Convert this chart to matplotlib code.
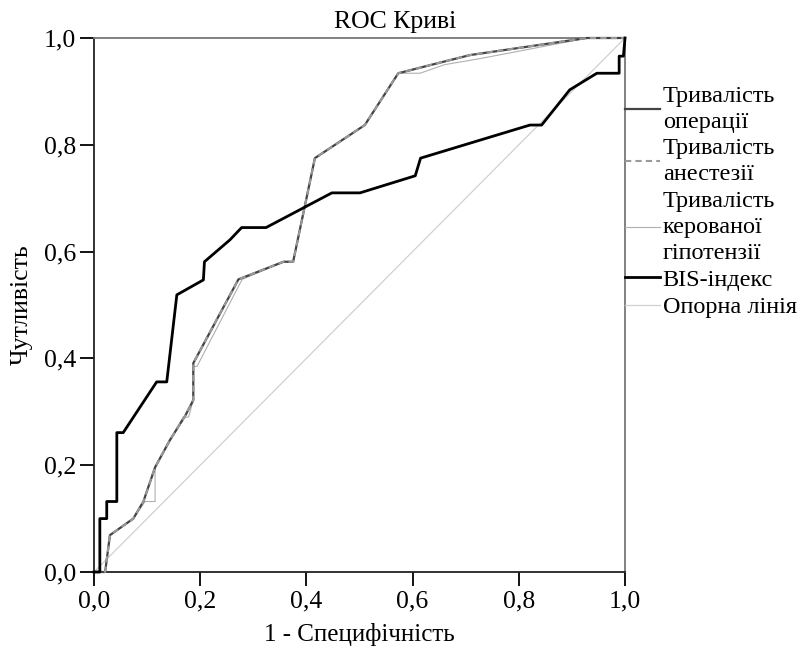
import numpy as np
import matplotlib
matplotlib.use("Agg")
import matplotlib.pyplot as plt

plt.rcParams['font.family'] = ['Liberation Serif', 'DejaVu Serif']

# дані кривих
op_x = [0.0, 0.021, 0.030, 0.074, 0.093, 0.115, 0.143, 0.172, 0.187, 0.187, 0.272, 0.357, 0.375, 0.416, 0.510, 0.573, 0.652, 0.708, 0.928, 1.0]
op_y = [0.0, 0.0, 0.069, 0.10, 0.132, 0.196, 0.247, 0.293, 0.322, 0.391, 0.548, 0.581, 0.581, 0.775, 0.837, 0.934, 0.954, 0.968, 1.0, 1.0]

an_x = [0.0, 0.021, 0.030, 0.074, 0.093, 0.115, 0.143, 0.172, 0.187, 0.187, 0.272, 0.357, 0.375, 0.416, 0.510, 0.573, 0.652, 0.708, 0.928, 1.0]
an_y = [0.0, 0.0, 0.069, 0.10, 0.132, 0.196, 0.247, 0.293, 0.322, 0.391, 0.548, 0.581, 0.581, 0.775, 0.837, 0.934, 0.954, 0.968, 1.0, 1.0]

hyp_x = [0.0, 0.021, 0.030, 0.074, 0.096, 0.115, 0.115, 0.143, 0.168, 0.178, 0.187, 0.187, 0.194, 0.279, 0.357, 0.375, 0.416, 0.510, 0.573, 0.614, 0.66, 0.73, 0.93, 1.0]
hyp_y = [0.0, 0.0, 0.069, 0.10, 0.132, 0.132, 0.196, 0.247, 0.29, 0.29, 0.322, 0.385, 0.385, 0.548, 0.581, 0.581, 0.775, 0.837, 0.934, 0.934, 0.95, 0.962, 1.0, 1.0]

bis_x = [0.0, 0.011, 0.011, 0.024, 0.024, 0.043, 0.043, 0.055, 0.118, 0.137, 0.156, 0.206, 0.208, 0.256, 0.278, 0.324, 0.448, 0.501, 0.605, 0.615, 0.821, 0.843, 0.896, 0.947, 0.989, 0.989, 0.997, 1.0]
bis_y = [0.0, 0.0, 0.10, 0.10, 0.132, 0.132, 0.261, 0.261, 0.356, 0.356, 0.519, 0.547, 0.581, 0.622, 0.645, 0.645, 0.710, 0.710, 0.742, 0.775, 0.837, 0.837, 0.903, 0.934, 0.934, 0.966, 0.966, 1.0]

ref_x = [0.0, 1.0]
ref_y = [0.0, 1.0]

labels = ['Тривалість\nоперації', 'Тривалість\nанестезії', 'Тривалість\nкерованої\nгіпотензії', 'BIS-індекс', 'Опорна лінія']
ticks = [0.0, 0.2, 0.4, 0.6, 0.8, 1.0]
tick_labels = ['0,0', '0,2', '0,4', '0,6', '0,8', '1,0']

fs = 18.5
fs_leg = 17.5

fig = plt.figure(figsize=(8.04, 6.54), dpi=100)
ax = fig.add_axes([94/804, 1-572/654, 531/804, 534/654])

ax.plot(ref_x, ref_y, color='#d0d0d0', lw=0.9, label=labels[4], zorder=1, clip_on=False)
ax.plot(hyp_x, hyp_y, color='#b0b0b0', lw=0.8, label=labels[2], zorder=2, clip_on=False)
ax.plot(op_x, op_y, color='#444444', lw=1.6, label=labels[0], zorder=3, clip_on=False)
ax.plot(an_x, an_y, color='#9a9a9a', lw=1.5, ls=(0, (3, 2)), label=labels[1], zorder=4, clip_on=False)
ax.plot(bis_x, bis_y, color='black', lw=2.0, label=labels[3], zorder=5, clip_on=False)

ax.set_xlim(0, 1)
ax.set_ylim(0, 1)
ax.set_xticks(ticks)
ax.set_xticklabels(tick_labels)
ax.set_yticks(ticks)
ax.set_yticklabels(tick_labels)
ax.tick_params(labelsize=fs, length=10, width=1.3, direction='out', pad=3)

for s in ['left', 'bottom']:
    ax.spines[s].set_linewidth(1.3)
    ax.spines[s].set_color('#222222')
for s in ['top', 'right']:
    ax.spines[s].set_linewidth(1.3)
    ax.spines[s].set_color('#777777')

ax.set_xlabel('1 - Специфічність', fontsize=18, labelpad=8)
ax.set_ylabel('Чутливість', fontsize=fs, labelpad=8)
fig.text(395/804, 1-22/654, 'ROC Криві', fontsize=fs, ha='center', va='center')

# порядок легенди
h, l = ax.get_legend_handles_labels()
order = [l.index(x) for x in labels]
leg = ax.legend([h[i] for i in order], [l[i] for i in order],
                loc='upper left', bbox_to_anchor=(1.0, 0.91), frameon=False,
                fontsize=fs_leg, borderaxespad=0, borderpad=0, handlelength=1.45,
                handletextpad=0.1, labelspacing=0.22)
for t in leg.get_texts():
    t.set_linespacing(1.31)

fig.savefig('out.png', dpi=100)
